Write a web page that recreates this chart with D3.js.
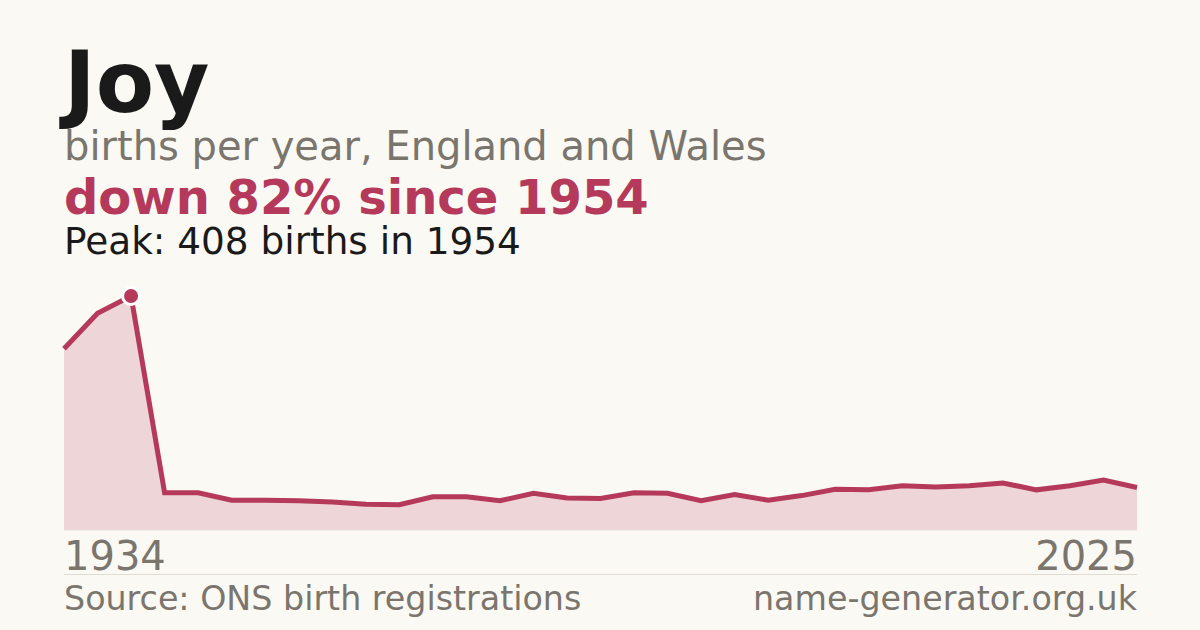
<!DOCTYPE html>
<html>
<head>
<meta charset="utf-8">
<script src="https://cdn.jsdelivr.net/npm/d3@7"></script>
<style>
  html, body { margin: 0; padding: 0; background: #faf9f4; }
  svg { display: block; }
  text { font-family: "DejaVu Sans", sans-serif; }
</style>
</head>
<body>
<svg id="chart" width="1200" height="630"></svg>
<script>
const years = [1934, 1944, 1954,
  1996, 1997, 1998, 1999, 2000, 2001, 2002, 2003, 2004, 2005,
  2006, 2007, 2008, 2009, 2010, 2011, 2012, 2013, 2014, 2015,
  2016, 2017, 2018, 2019, 2020, 2021, 2022, 2023, 2024, 2025];
const births = [316, 378, 408,
  65, 65, 52, 52, 51, 49, 45, 44, 58, 58,
  51, 64, 56, 55, 65, 64, 51, 62, 52, 60,
  71, 70, 77, 75, 77, 82, 70, 77, 87, 74];
const axisLabels = ["1934", "2025"];
const titleText = "Joy";
const subtitleText = "births per year, England and Wales";
const changeText = "down 82% since 1954";
const peakText = "Peak: 408 births in 1954";
const sourceText = "Source: ONS birth registrations";
const siteText = "name-generator.org.uk";

const data = years.map((y, i) => ({ year: y, value: births[i] }));
const svg = d3.select("#chart");
const red = "#b5395a";
const grey = "#7a756d";

svg.append("rect").attr("width", 1200).attr("height", 630).attr("fill", "#faf9f4");

const x = d3.scalePoint().domain(years).range([64, 1137]);
const y = d3.scaleLinear().domain([0, d3.max(births)]).range([530, 296]);

// headings
svg.append("text").attr("x", 64).attr("y", 112).attr("font-size", 85).attr("font-weight", "bold").attr("fill", "#1a1a1a").text(titleText);
svg.append("text").attr("x", 64).attr("y", 160).attr("font-size", 40).attr("fill", grey).text(subtitleText);
svg.append("text").attr("x", 64).attr("y", 214).attr("font-size", 48).attr("font-weight", "bold").attr("fill", red).text(changeText);
svg.append("text").attr("x", 64).attr("y", 254).attr("font-size", 37.4).attr("fill", "#1a1a1a").text(peakText);

// area
const area = d3.area().x(d => x(d.year)).y0(y(0)).y1(d => y(d.value));
svg.append("path").datum(data).attr("d", area).attr("fill", red).attr("fill-opacity", 0.18);

svg.append("line").attr("x1", 64).attr("x2", 1137).attr("y1", y(0)).attr("y2", y(0))
  .attr("stroke", "#e6e1d8").attr("stroke-width", 1);

const line = d3.line().x(d => x(d.year)).y(d => y(d.value));
svg.append("path").datum(data).attr("d", line).attr("fill", "none")
  .attr("stroke", red).attr("stroke-width", 5).attr("stroke-linejoin", "miter");

// peak marker
const peak = data.reduce((a, b) => (b.value > a.value ? b : a));
svg.append("circle").attr("cx", x(peak.year)).attr("cy", y(peak.value)).attr("r", 8.5)
  .attr("fill", red).attr("stroke", "#ffffff").attr("stroke-width", 3);

// axis labels
svg.append("text").attr("x", x(years[0])).attr("y", 570).attr("font-size", 40).attr("fill", grey).text(axisLabels[0]);
svg.append("text").attr("x", x(years[years.length - 1])).attr("y", 570).attr("font-size", 40).attr("fill", grey).attr("text-anchor", "end").text(axisLabels[1]);

// separator
svg.append("line").attr("x1", 64).attr("x2", 1137).attr("y1", 574.5).attr("y2", 574.5).attr("stroke", "#e0dcd4").attr("stroke-width", 1);

// footer
svg.append("text").attr("x", 64).attr("y", 610).attr("font-size", 33.3).attr("fill", grey).text(sourceText);
svg.append("text").attr("x", 1137).attr("y", 610).attr("font-size", 33.3).attr("fill", grey).attr("text-anchor", "end").text(siteText);
</script>
</body>
</html>
